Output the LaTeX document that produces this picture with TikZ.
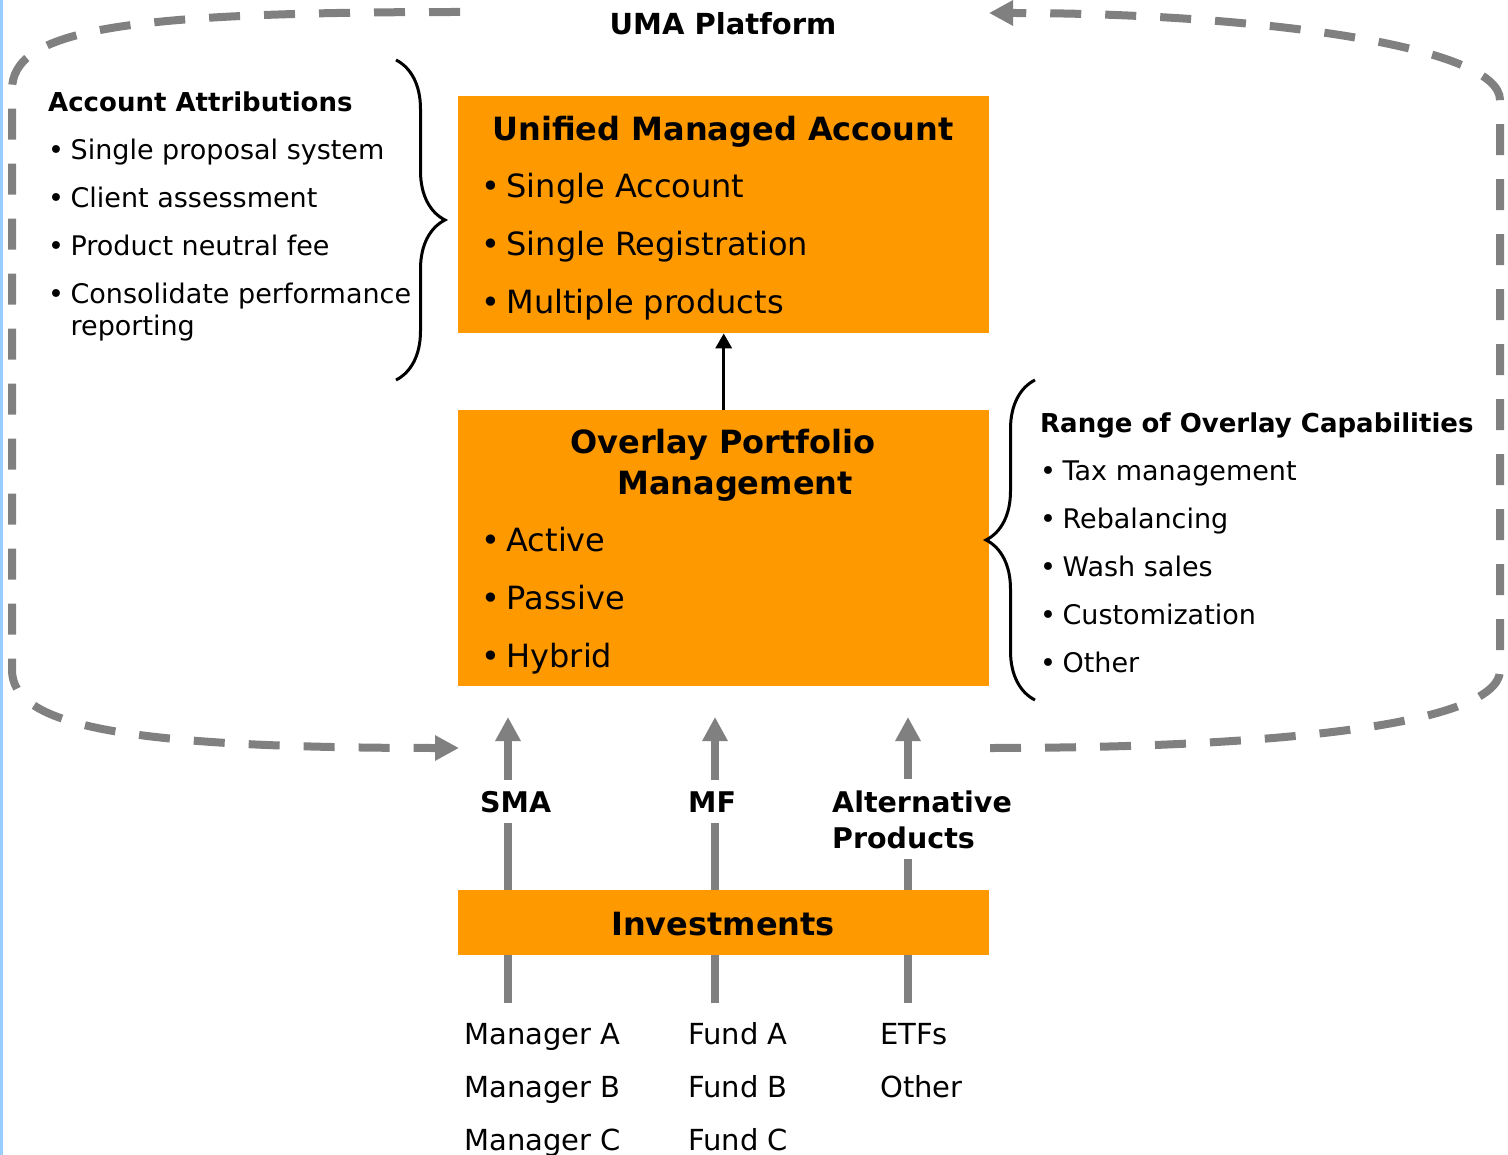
\documentclass[tikz,border=0pt]{standalone}
\usepackage{fontspec}
\setmainfont{DejaVu Sans}
\usetikzlibrary{positioning,arrows.meta,decorations.pathreplacing}

\definecolor{umaorange}{HTML}{FF9900}
\definecolor{flowgray}{HTML}{808080}
\definecolor{edgeblue}{HTML}{99CCFF}

\newcommand{\bul}{\textbullet\hspace{6.5pt}}
\newcommand{\sidehead}[1]{{\fontsize{26}{48}\selectfont\bfseries #1}}

\tikzset{
  box/.style={fill=umaorange, inner sep=0pt, minimum width=531pt, anchor=north west},
  boxhead/.style={font=\fontsize{32}{40}\selectfont\bfseries, inner sep=0pt, align=center, anchor=base},
  boxlist/.style={font=\fontsize{32}{58}\selectfont, inner sep=0pt, align=left, anchor=base west},
  sidelist/.style={font=\fontsize{27}{48}\selectfont, inner sep=0pt, align=left, anchor=base west},
  leaflist/.style={font=\fontsize{29}{53}\selectfont, inner sep=0pt, align=left, anchor=base west},
  feedlabel/.style={font=\fontsize{28.5}{36}\selectfont\bfseries, fill=white, inner sep=11pt, align=left, anchor=base west},
  platformloop/.style={flowgray, line width=8pt, dash pattern=on 31pt off 24pt,
    -{Triangle[length=24pt,width=24pt]}},
  feed/.style={flowgray, line width=8pt, -{Triangle[length=24pt,width=24pt]}},
  bracket/.style={line width=3pt, decorate, decoration={brace, amplitude=49pt}},
}

\begin{document}
\begin{tikzpicture}[x=1pt, y=-1pt]
    \useasboundingbox (0,0) rectangle (1508,1155);
    \fill[edgeblue] (0,0) rectangle (2.5,1155);

    % Platform loop
    \draw[platformloop] (460,12) .. controls (120,12) and (12,30) .. (12,90)
        -- (12,670) .. controls (12,725) and (120,748) .. (459,748);
    \draw[platformloop] (990,748) .. controls (1250,748) and (1500,728) .. (1500,670)
        -- (1500,100) .. controls (1500,45) and (1250,13) .. (989,13);
    \node[font=\fontsize{29}{34}\selectfont\bfseries, anchor=base] (platform) at (723,35) {UMA Platform};

    % Feeds into the overlay
    \coordinate (smaIn) at (508,1003);  \coordinate (smaOut) at (508,717);
    \coordinate (mfIn) at (715,1003);   \coordinate (mfOut) at (715,717);
    \coordinate (altIn) at (908,1003);  \coordinate (altOut) at (908,717);
    \draw[feed] (smaIn) -- (smaOut);
    \draw[feed] (mfIn) -- (mfOut);
    \draw[feed] (altIn) -- (altOut);
    \node[feedlabel] (sma) at (469,812) {SMA};
    \node[feedlabel] (mf) at (677,812) {MF};
    \node[feedlabel] (alt) at (821,848) {Alternative\\Products};

    % Boxes
    \node[box, minimum height=237pt] (uma) at (458,96) {};
    \node[box, minimum height=276pt] (opm) at (458,410) {};
    \node[box, minimum height=65pt] (inv) at (458,890) {};
    \draw[-{Triangle[length=15pt,width=16pt]}, line width=3.5pt] (opm.north) -- (uma.south);

    \node[boxhead] (umahead) at (723,141) {Unified Managed Account};
    \node[boxlist] (umalist) at (481,314) {\bul Single Account\\\bul Single Registration\\\bul Multiple products};
    \node[boxhead] (opmhead) at (723,494) {Overlay Portfolio\\\hspace*{24pt}Management};
    \node[boxlist] (opmlist) at (481,667) {\bul Active\\\bul Passive\\\bul Hybrid};
    \node[boxhead] (invhead) at (723,935) {Investments};

    % Side notes
    \node[sidelist] (attr) at (48,336) {\sidehead{Account Attributions}\\
        \bul Single proposal system\\\bul Client assessment\\\bul Product neutral fee\\
        \bul Consolidate performance\\[-16pt]\hphantom{\bul}reporting};
    \node[sidelist] (range) at (1040,672) {\sidehead{Range of Overlay Capabilities}\\
        \bul Tax management\\\bul Rebalancing\\\bul Wash sales\\\bul Customization\\\bul Other};
    \draw[bracket] (396,60) -- (396,380);
    \draw[bracket] (1035,700) -- (1035,380);

    % Products
    \node[leaflist] (mgr) at (464,1150) {Manager A\\Manager B\\Manager C};
    \node[leaflist] (fund) at (688,1150) {Fund A\\Fund B\\Fund C};
    \node[leaflist] (etf) at (880,1097) {ETFs\\Other};
\end{tikzpicture}
\end{document}
